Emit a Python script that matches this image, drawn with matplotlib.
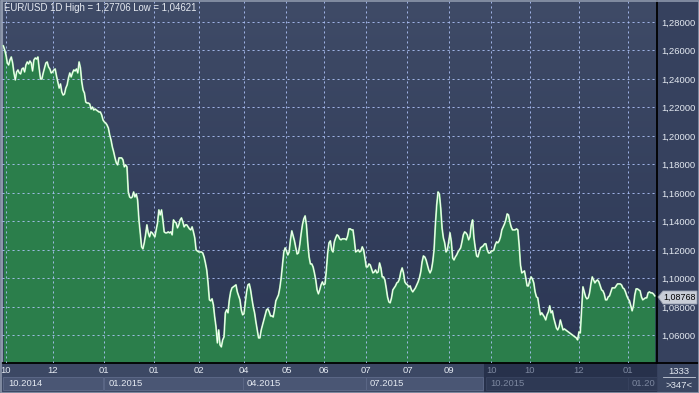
import numpy as np
import matplotlib.pyplot as plt
from matplotlib.patches import Rectangle, Polygon
from matplotlib.lines import Line2D

plt.rcParams['font.family'] = ['Liberation Sans', 'DejaVu Sans']

# daily close, EUR/USD, Oct 2014 .. Jan 2016
close_q4_2014 = [
    1.2632, 1.2604, 1.2568, 1.2512, 1.2498, 1.2533, 1.2554, 1.2512, 1.2442, 1.2393,
    1.2449, 1.2463, 1.2442, 1.2435, 1.2470, 1.2477, 1.2449, 1.2498, 1.2519, 1.2505,
    1.2526, 1.2512, 1.2456, 1.2533, 1.2547, 1.2540, 1.2554, 1.2470, 1.2400, 1.2400,
    1.2442, 1.2477, 1.2512, 1.2519, 1.2484, 1.2470, 1.2442, 1.2449, 1.2463, 1.2470,
    1.2421, 1.2379, 1.2336, 1.2365, 1.2308, 1.2287, 1.2294, 1.2336, 1.2358, 1.2407,
    1.2442, 1.2414, 1.2442, 1.2463, 1.2456, 1.2470, 1.2442, 1.2519, 1.2477, 1.2379,
    1.2322, 1.2301, 1.2238, 1.2231, 1.2231, 1.2224, 1.2189, 1.2203, 1.2182, 1.2189,
    1.2182, 1.2175, 1.2168, 1.2168, 1.2147, 1.2112, 1.2098, 1.2091,
]
close_q1_2015 = [
    1.2077, 1.2056, 1.2007, 1.1972, 1.1923, 1.1888, 1.1846, 1.1811, 1.1797, 1.1846,
    1.1846, 1.1846, 1.1832, 1.1783, 1.1797, 1.1783, 1.1607, 1.1572, 1.1565, 1.1572,
    1.1607, 1.1572, 1.1593, 1.1551, 1.1411, 1.1320, 1.1222, 1.1208, 1.1250, 1.1306,
    1.1376, 1.1320, 1.1292, 1.1327, 1.1320, 1.1306, 1.1292, 1.1341, 1.1390, 1.1481,
    1.1446, 1.1481, 1.1411, 1.1327, 1.1320, 1.1320, 1.1327, 1.1320, 1.1327, 1.1306,
    1.1411, 1.1397, 1.1390, 1.1355, 1.1376, 1.1411, 1.1425, 1.1397, 1.1362, 1.1376,
    1.1376, 1.1362, 1.1348, 1.1341, 1.1362, 1.1327, 1.1285, 1.1200, 1.1193, 1.1186,
    1.1186, 1.1186, 1.1179,
]
close_2015_rest = [
    1.1151, 1.1109, 1.1060, 1.0969, 1.0850, 1.0843, 1.0857, 1.0815, 1.0730, 1.0660,
    1.0548, 1.0639, 1.0534, 1.0520, 1.0569, 1.0590, 1.0759, 1.0780, 1.0759, 1.0850,
    1.0906, 1.0934, 1.0941, 1.0948, 1.0955, 1.0906, 1.0878, 1.0850, 1.0780, 1.0745,
    1.0752, 1.0829, 1.0906, 1.0955, 1.0962, 1.0920, 1.0857, 1.0801, 1.0759, 1.0695,
    1.0639, 1.0583, 1.0583, 1.0639, 1.0674, 1.0709, 1.0745, 1.0780, 1.0787, 1.0766,
    1.0737, 1.0737, 1.0730, 1.0780, 1.0843, 1.0864, 1.0885, 1.0934, 1.1004, 1.1095,
    1.1186, 1.1215, 1.1193, 1.1165, 1.1186, 1.1271, 1.1334, 1.1299, 1.1264, 1.1215,
    1.1172, 1.1179, 1.1236, 1.1313, 1.1376, 1.1418, 1.1439, 1.1376, 1.1250, 1.1151,
    1.1102, 1.1102, 1.1081, 1.1039, 1.0990, 1.0920, 1.0892, 1.0920, 1.0955, 1.0976,
    1.0955, 1.0962, 1.1060, 1.1179, 1.1250, 1.1264, 1.1200, 1.1186, 1.1257, 1.1285,
    1.1306, 1.1299, 1.1278, 1.1271, 1.1278, 1.1278, 1.1278, 1.1271, 1.1299, 1.1348,
    1.1348, 1.1341, 1.1341, 1.1271, 1.1186, 1.1193, 1.1200, 1.1186, 1.1193, 1.1222,
    1.1200, 1.1144, 1.1081, 1.1081, 1.1102, 1.1095, 1.1067, 1.1039, 1.1046, 1.1060,
    1.1039, 1.1046, 1.1109, 1.1074, 1.1011, 1.1011, 1.0990, 1.0934, 1.0871, 1.0836,
    1.0829, 1.0864, 1.0920, 1.0934, 1.0948, 1.0969, 1.0976, 1.0997, 1.1046, 1.1074,
    1.1039, 1.0976, 1.0962, 1.0955, 1.0941, 1.0948, 1.0920, 1.0906, 1.0920, 1.0934,
    1.0955, 1.0976, 1.1004, 1.1046, 1.1116, 1.1158, 1.1151, 1.1130, 1.1095, 1.1060,
    1.1039, 1.1060, 1.1116, 1.1200, 1.1376, 1.1516, 1.1607, 1.1593, 1.1495, 1.1355,
    1.1285, 1.1250, 1.1186, 1.1200, 1.1257, 1.1320, 1.1257, 1.1144, 1.1130, 1.1151,
    1.1165, 1.1186, 1.1200, 1.1215, 1.1257, 1.1306, 1.1327, 1.1320, 1.1306, 1.1271,
    1.1292, 1.1376, 1.1411, 1.1285, 1.1215, 1.1158, 1.1151, 1.1186, 1.1215, 1.1222,
    1.1229, 1.1243, 1.1243, 1.1200, 1.1179, 1.1179, 1.1193, 1.1193, 1.1200, 1.1236,
    1.1257, 1.1250, 1.1264, 1.1292, 1.1341, 1.1362, 1.1383, 1.1411, 1.1453, 1.1446,
    1.1397, 1.1362, 1.1341, 1.1341, 1.1341, 1.1348, 1.1341, 1.1236, 1.1095, 1.1039,
    1.1046, 1.1053, 1.1004, 1.0948, 1.0948, 1.0990, 1.1011, 1.0997, 1.0969, 1.0906,
    1.0871, 1.0864, 1.0801, 1.0745, 1.0759, 1.0745, 1.0730, 1.0709, 1.0745, 1.0766,
    1.0808, 1.0759, 1.0773, 1.0723, 1.0688, 1.0653, 1.0639, 1.0660, 1.0709, 1.0674,
    1.0639, 1.0646, 1.0639, 1.0632, 1.0625, 1.0618, 1.0611, 1.0604, 1.0597, 1.0590,
    1.0583, 1.0569, 1.0625, 1.0618, 1.0780, 1.0941, 1.0906, 1.0871, 1.0857, 1.0864,
    1.0899, 1.0962, 1.1011, 1.0990, 1.0969, 1.0983, 1.0990, 1.0976, 1.0948, 1.0920,
    1.0913, 1.0892, 1.0850, 1.0850, 1.0871, 1.0878, 1.0906, 1.0934, 1.0934, 1.0934,
    1.0948, 1.0962, 1.0962, 1.0962, 1.0955, 1.0934, 1.0927, 1.0906, 1.0878, 1.0857,
    1.0843, 1.0808, 1.0773, 1.0808, 1.0885, 1.0927, 1.0927, 1.0920, 1.0913, 1.0871,
    1.0850, 1.0857, 1.0864, 1.0864, 1.0899, 1.0906, 1.0899, 1.0899, 1.0892, 1.0878,
]

month_ticks = [2, 37, 76, 113, 147, 181, 213, 241, 273, 304, 335, 367, 396, 433, 470]
month_labels = ["10", "12", "01", "01", "02", "04", "05", "06", "07", "07", "09", "10", "10", "12", "01"]
y_ticks = [1.06, 1.08, 1.10, 1.12, 1.14, 1.16, 1.18, 1.20, 1.22, 1.24, 1.26, 1.28]
period_labels = ["10.2014", "01.2015", "04.2015", "07.2015", "10.2015", "01.20"]
title = "EUR/USD 1D High = 1,27706 Low = 1,04621"
last_price = "1,08768"

close = np.array(close_q4_2014 + close_q1_2015 + close_2015_rest)
x = np.arange(len(close))

W, H = 699, 393
fig = plt.figure(figsize=(W / 100, H / 100), dpi=100)
fig.patch.set_facecolor('#36415e')


def box(px0, py0, px1, py1, **kw):
    # rectangle given in image pixels (origin top-left)
    r = Rectangle((px0 / W, 1 - py1 / H), (px1 - px0) / W, (py1 - py0) / H,
                  transform=fig.transFigure, **kw)
    fig.add_artist(r)
    return r


def ftext(px, py, s, **kw):
    fig.text(px / W, 1 - py / H, s, **kw)


ymin, ymax = 1.0407, 1.2954
ax = fig.add_axes([2 / W, 30 / H, 655 / W, 363 / H])
ax.set_xlim(-1, len(close) + 0.7)
ax.set_ylim(ymin, ymax)

# background gradient
grad = np.linspace(0, 1, 256)[:, None]
top = np.array([63, 75, 103]) / 255
bot = np.array([43, 54, 84]) / 255
img = top[None, None, :] * (1 - grad[:, :, None]) + bot[None, None, :] * grad[:, :, None]
ax.imshow(img, extent=[-1, len(close) + 0.7, ymin, ymax], aspect='auto', zorder=0)

ax.fill_between(x, close, ymin, color='#2b7e4b', lw=0, zorder=1)
ax.plot(x, close, color='#9fe8a4', lw=1.3, zorder=3)
ax.plot(x, close, color='#ffffff', lw=0.6, zorder=4)

ax.set_yticks(y_ticks)
ax.set_yticklabels([f"{v:.5f}".replace('.', ',') for v in y_ticks])
ax.yaxis.tick_right()
ax.set_xticks(month_ticks)
ax.set_xticklabels(month_labels)
ax.set_axisbelow(False)
ax.grid(True, color=(0.7, 0.78, 1, 0.10), linestyle=(0, (2.5, 3.5)), lw=0.6)
ax.tick_params(axis='y', length=0, pad=3, labelsize=6.8, labelcolor='#e4e9f1')
ax.tick_params(axis='x', length=0, pad=2.5, labelsize=6.8, labelcolor='#e4e9f1')
for lbl, t in zip(ax.get_xticklabels(), month_ticks):
    if t > 360:
        lbl.set_color('#7c879f')

ax.spines['top'].set_visible(False)
ax.spines['right'].set_color('black')
ax.spines['right'].set_linewidth(1.3)
ax.spines['bottom'].set_color('black')
ax.spines['bottom'].set_linewidth(1.3)
ax.spines['left'].set_color('#8d97ab')
ax.spines['left'].set_linewidth(1.5)

ax.text(0.003, 0.978, title, transform=ax.transAxes, color='#e8ecf3',
        fontsize=6.9, va='center', ha='left', zorder=5)

# bottom time bands
box(0, 363, 484, 393, facecolor='#3c4864', edgecolor='none', zorder=-1)
box(484, 363, 657, 393, facecolor='#27314b', edgecolor='none', zorder=-1)
for x0, x1 in [(3, 103), (104, 243), (243, 366), (366, 483)]:
    box(x0, 377, x1, 390, facecolor='#4a5674', edgecolor='#5b6786', lw=0.7, zorder=-1)
for x0, x1 in [(486, 628), (628, 657)]:
    box(x0, 377, x1, 390, facecolor='#2e3954', edgecolor='#37425e', lw=0.7, zorder=-1)
box(658, 363, 699, 393, facecolor='#3a4662', edgecolor='none', zorder=-1)

period_x = [8, 109, 247, 370, 490, 632]
for px, s in zip(period_x, period_labels):
    col = '#e4e9f1' if px < 480 else '#7c879f'
    ftext(px, 384, s, color=col, fontsize=6.8, va='center', ha='left')

ftext(679, 371, "1333", color='#e4e9f1', fontsize=6.8, va='center', ha='center')
fig.add_artist(Line2D([663 / W, 695 / W], [1 - 377 / H] * 2, color='#c9d0dc', lw=0.6,
                      transform=fig.transFigure))
ftext(679, 385, ">347<", color='#e4e9f1', fontsize=6.8, va='center', ha='center')
fig.add_artist(Line2D([657 / W, 1], [1 - 363 / H] * 2, color='black', lw=1.3,
                      transform=fig.transFigure))

# last price tag
tag = [(658, 297), (663, 291), (697, 291), (697, 304), (663, 304)]
fig.add_artist(Polygon([(px / W, 1 - py / H) for px, py in tag], closed=True,
                       facecolor='#c8cdd7', edgecolor='#9aa2b2', lw=0.6,
                       transform=fig.transFigure, zorder=5))
ftext(680, 297.5, last_price, color='black', fontsize=6.4, va='center', ha='center', zorder=6)

# outer frame
box(0.5, 0.5, 698.5, 392.5, facecolor='none', edgecolor='#8d97ab', lw=1.2, zorder=10)

fig.savefig('out.png', dpi=100, facecolor=fig.get_facecolor())
